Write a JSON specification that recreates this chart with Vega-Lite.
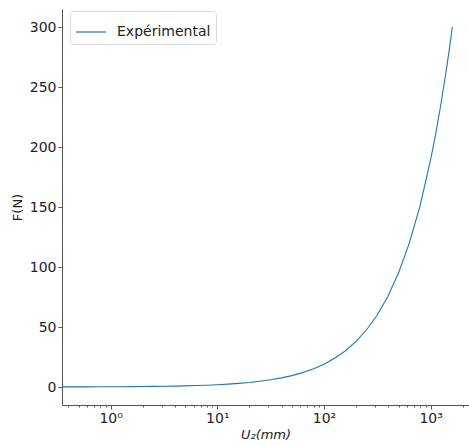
{
  "$schema": "https://vega.github.io/schema/vega-lite/v6.json",
  "autosize": {"type": "none"},
  "width": 407,
  "height": 396,
  "padding": {"left": 62, "top": 9, "right": 0, "bottom": 40},
  "background": "white",
  "config": {
    "view": {"stroke": null},
    "font": "DejaVu Sans",
    "axis": {"grid": false, "domainColor": "#555555", "tickColor": "#555555", "labelColor": "#222222", "titleColor": "#222222", "labelFontSize": 14, "titleFontSize": 13, "titleFontWeight": "normal", "labelFont": "DejaVu Sans", "titleFont": "DejaVu Sans"}
  },
  "data": {"values": [
    {"U": 0.35, "F": 0.07, "s": "Expérimental"},
    {"U": 0.45, "F": 0.09, "s": "Expérimental"},
    {"U": 0.6, "F": 0.11, "s": "Expérimental"},
    {"U": 0.8, "F": 0.15, "s": "Expérimental"},
    {"U": 1, "F": 0.19, "s": "Expérimental"},
    {"U": 1.3, "F": 0.25, "s": "Expérimental"},
    {"U": 1.6, "F": 0.3, "s": "Expérimental"},
    {"U": 2, "F": 0.38, "s": "Expérimental"},
    {"U": 2.5, "F": 0.48, "s": "Expérimental"},
    {"U": 3.2, "F": 0.61, "s": "Expérimental"},
    {"U": 4, "F": 0.76, "s": "Expérimental"},
    {"U": 5, "F": 0.95, "s": "Expérimental"},
    {"U": 6.3, "F": 1.2, "s": "Expérimental"},
    {"U": 8, "F": 1.52, "s": "Expérimental"},
    {"U": 10, "F": 1.9, "s": "Expérimental"},
    {"U": 12.6, "F": 2.4, "s": "Expérimental"},
    {"U": 15.8, "F": 3.0, "s": "Expérimental"},
    {"U": 20, "F": 3.8, "s": "Expérimental"},
    {"U": 25, "F": 4.8, "s": "Expérimental"},
    {"U": 31.6, "F": 6.0, "s": "Expérimental"},
    {"U": 40, "F": 7.6, "s": "Expérimental"},
    {"U": 50, "F": 9.5, "s": "Expérimental"},
    {"U": 63, "F": 12.0, "s": "Expérimental"},
    {"U": 79, "F": 15.0, "s": "Expérimental"},
    {"U": 100, "F": 19.0, "s": "Expérimental"},
    {"U": 126, "F": 23.9, "s": "Expérimental"},
    {"U": 158, "F": 30.0, "s": "Expérimental"},
    {"U": 200, "F": 38.0, "s": "Expérimental"},
    {"U": 251, "F": 47.7, "s": "Expérimental"},
    {"U": 316, "F": 60.0, "s": "Expérimental"},
    {"U": 398, "F": 75.6, "s": "Expérimental"},
    {"U": 501, "F": 95.2, "s": "Expérimental"},
    {"U": 631, "F": 119.9, "s": "Expérimental"},
    {"U": 794, "F": 150.5, "s": "Expérimental"},
    {"U": 1000, "F": 189.5, "s": "Expérimental"},
    {"U": 1122, "F": 212, "s": "Expérimental"},
    {"U": 1259, "F": 237.5, "s": "Expérimental"},
    {"U": 1413, "F": 266, "s": "Expérimental"},
    {"U": 1500, "F": 282, "s": "Expérimental"},
    {"U": 1600, "F": 300, "s": "Expérimental"}
  ]},
  "mark": {"type": "line", "strokeWidth": 1.1, "clip": true},
  "encoding": {
    "x": {
      "field": "U", "type": "quantitative",
      "scale": {"type": "log", "domain": [0.35, 2290], "nice": false},
      "axis": {
        "title": "U₂(mm)", "titleFontStyle": "italic", "titlePadding": 3,
        "values": [0.4,0.5,0.6,0.7,0.8,0.9,1,2,3,4,5,6,7,8,9,10,20,30,40,50,60,70,80,90,100,200,300,400,500,600,700,800,900,1000,2000],
        "labelExpr": "indexof([1,10,100,1000], datum.value) >= 0 ? (datum.value == 1 ? '10⁰' : datum.value == 10 ? '10¹' : datum.value == 100 ? '10²' : '10³') : ''",
        "tickSize": {"condition": {"test": "indexof([1,10,100,1000], datum.value) >= 0", "value": 4}, "value": 2},
        "labelPadding": 2
      }
    },
    "y": {
      "field": "F", "type": "quantitative",
      "scale": {"domain": [-15, 315], "nice": false, "zero": false},
      "axis": {"title": "F(N)", "values": [0,50,100,150,200,250,300], "tickSize": 4, "titlePadding": 5}
    },
    "color": {
      "field": "s", "type": "nominal",
      "scale": {"range": ["#1f77b4"]},
      "legend": {"title": null, "orient": "none", "legendX": 8, "legendY": 2, "symbolType": "stroke", "symbolSize": 900, "symbolStrokeWidth": 1.2, "labelFontSize": 14, "labelFont": "DejaVu Sans", "labelColor": "#222222", "labelOffset": 10, "fillColor": "white", "strokeColor": "#dddddd", "padding": 5, "cornerRadius": 3}
    }
  }
}
